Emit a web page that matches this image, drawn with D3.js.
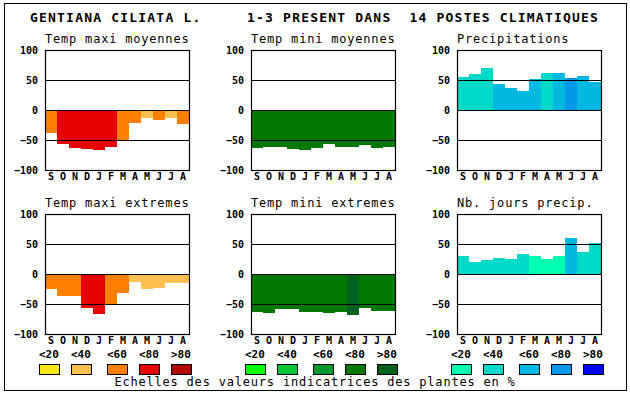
<!DOCTYPE html>
<html>
<head>
<meta charset="utf-8">
<script src="https://cdn.jsdelivr.net/npm/d3@7"></script>
<style>
  body { margin: 0; background: #fff; }
  svg { display: block; }
  text { font-family: "DejaVu Sans Mono", monospace; }
</style>
</head>
<body>
<svg id="chart"></svg>
<script>
const months = ['S','O','N','D','J','F','M','A','M','J','J','A'];
const legendLabels = ['<20','<40','<60','<80','>80'];

const warmColors  = ['#f8e818','#ffc050','#ff8000','#e80000','#b00800'];
const greenColors = ['#00ff00','#00c838','#009830','#007800','#006020'];
const blueColors  = ['#00ffb0','#00d8c8','#00b8e0','#0098e8','#0000f8'];

// values (%) and colour class (0..4) for each month
const maxiMoy     = [-38,-56,-63,-65,-66,-61,-50,-21,-14,-16,-14,-24];
const maxiMoyCls  = [2,3,3,3,3,3,2,2,1,2,1,2];
const miniMoy     = [-64,-62,-62,-65,-66,-64,-57,-62,-62,-58,-63,-62];
const miniMoyCls  = [3,3,3,3,3,3,3,3,3,3,3,3];
const precip      = [55,60,70,43,37,32,52,62,62,53,57,47];
const precipCls   = [1,1,1,2,2,2,2,1,2,3,2,2];
const maxiExt     = [-25,-37,-37,-57,-67,-50,-32,-13,-25,-23,-15,-15];
const maxiExtCls  = [2,2,2,3,3,2,2,1,1,1,1,1];
const miniExt     = [-63,-65,-58,-58,-63,-63,-65,-63,-68,-57,-62,-62];
const miniExtCls  = [3,3,3,3,3,3,3,3,4,3,3,3];
const nbJours     = [30,20,23,27,25,33,30,25,30,60,37,52];
const nbJoursCls  = [1,1,1,1,1,1,0,0,0,2,1,1];

const yTicks = [100,50,0,-50,-100];

const panels = [
  { title: 'Temp maxi moyennes', vals: maxiMoy, cls: maxiMoyCls, pal: warmColors,  col: 0, row: 0 },
  { title: 'Temp mini moyennes', vals: miniMoy, cls: miniMoyCls, pal: greenColors, col: 1, row: 0 },
  { title: 'Precipitations',     vals: precip,  cls: precipCls,  pal: blueColors,  col: 2, row: 0 },
  { title: 'Temp maxi extremes', vals: maxiExt, cls: maxiExtCls, pal: warmColors,  col: 0, row: 1 },
  { title: 'Temp mini extremes', vals: miniExt, cls: miniExtCls, pal: greenColors, col: 1, row: 1 },
  { title: 'Nb. jours precip.',  vals: nbJours, cls: nbJoursCls, pal: blueColors,  col: 2, row: 1 }
];

const W = 630, H = 394;
const colX = [45, 251, 457];
const rowY = [50, 214];
const pw = 144, ph = 120;

const svg = d3.select('#chart').attr('width', W).attr('height', H);

svg.append('rect')
  .attr('x', 4.5).attr('y', 3.5)
  .attr('width', 622).attr('height', 387)
  .attr('fill', '#fff').attr('stroke', '#000').attr('stroke-width', 1);

// main title
svg.append('text')
  .attr('x', 30).attr('y', 22)
  .attr('font-size', 13).attr('font-weight', 'bold')
  .attr('letter-spacing', 1.2)
  .text('GENTIANA CILIATA L.');
svg.append('text')
  .attr('x', 247).attr('y', 22)
  .attr('font-size', 13).attr('font-weight', 'bold')
  .attr('letter-spacing', 1.2)
  .style('white-space', 'pre')
  .text('1-3 PRESENT DANS  14 POSTES CLIMATIQUES');

const x = d3.scaleBand().domain(d3.range(12)).range([0, pw]).padding(0);
const y = d3.scaleLinear().domain([-100, 100]).range([ph, 0]);

panels.forEach(p => {
  const g = svg.append('g')
    .attr('transform', `translate(${colX[p.col]},${rowY[p.row]})`);

  g.append('text')
    .attr('x', 0).attr('y', -7)
    .attr('font-size', 12)
    .attr('letter-spacing', 0.8)
    .text(p.title);

  g.selectAll('.bar')
    .data(p.vals)
    .enter().append('rect')
    .attr('class', 'bar')
    .attr('x', (d, i) => x(i))
    .attr('width', x.bandwidth())
    .attr('y', d => y(Math.max(0, d)))
    .attr('height', d => Math.abs(y(d) - y(0)))
    .attr('fill', (d, i) => p.pal[p.cls[i]])
    .attr('shape-rendering', 'crispEdges');

  // horizontal reference lines
  g.selectAll('.hl')
    .data([50, 0, -50])
    .enter().append('line')
    .attr('x1', 0).attr('x2', pw)
    .attr('y1', d => Math.round(y(d)) + 0.5)
    .attr('y2', d => Math.round(y(d)) + 0.5)
    .attr('stroke', '#000').attr('stroke-width', 1.2);

  g.append('rect')
    .attr('x', 0.5).attr('y', 0.5)
    .attr('width', pw).attr('height', ph)
    .attr('fill', 'none').attr('stroke', '#000').attr('stroke-width', 1.2);

  const ya = g.append('g')
    .call(d3.axisLeft(y).tickValues(yTicks).tickSize(0).tickPadding(7).tickFormat(d3.format('d')));
  ya.select('.domain').remove();
  ya.selectAll('text')
    .attr('font-family', '"DejaVu Sans Mono", monospace')
    .attr('font-size', 10).attr('font-weight', 'bold')
    .attr('fill', '#000');

  const xa = g.append('g')
    .attr('transform', `translate(0,${ph})`)
    .call(d3.axisBottom(x).tickSize(0).tickPadding(3).tickFormat(i => months[i]));
  xa.select('.domain').remove();
  xa.selectAll('text')
    .attr('font-family', '"DejaVu Sans Mono", monospace')
    .attr('font-size', 10).attr('font-weight', 'bold')
    .attr('fill', '#000');
});

// legends
const boxOffsets = [-6, 26, 62, 94, 126];
[warmColors, greenColors, blueColors].forEach((pal, k) => {
  const lg = svg.append('g').attr('transform', `translate(${colX[k]},0)`);
  lg.selectAll('rect')
    .data(pal)
    .enter().append('rect')
    .attr('x', (d, i) => boxOffsets[i] + 0.5)
    .attr('y', 364.5)
    .attr('width', 20).attr('height', 10)
    .attr('fill', d => d)
    .attr('stroke', '#000').attr('stroke-width', 1);
  lg.selectAll('text')
    .data(legendLabels)
    .enter().append('text')
    .attr('x', (d, i) => boxOffsets[i])
    .attr('y', 358)
    .attr('font-size', 11).attr('font-weight', 'bold')
    .text(d => d);
});

svg.append('text')
  .attr('x', 315).attr('y', 386)
  .attr('text-anchor', 'middle')
  .attr('font-size', 12)
  .attr('letter-spacing', 0.8)
  .text('Echelles des valeurs indicatrices des plantes en %');
</script>
</body>
</html>
